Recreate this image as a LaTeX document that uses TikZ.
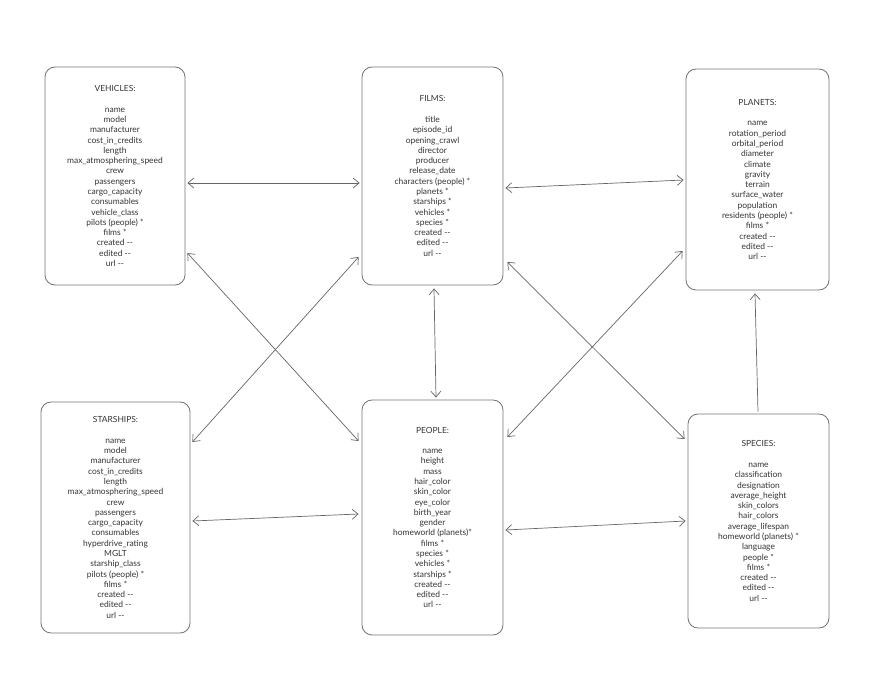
\documentclass[tikz,border=0pt]{standalone}
\usepackage{fontspec}
\setmainfont{Lato}
\usetikzlibrary{arrows.meta, positioning}

\tikzset{
	entity/.style={draw=black!55, line width=0.7pt, rounded corners=0.3cm, align=center, inner sep=0pt,
		text=black!80, font=\fontsize{7.2}{8.78}\selectfont},
	link/.style={draw=black!60, line width=0.6pt},
	tip/.tip={Straight Barb[length=5pt, width=8.5pt, line width=0.6pt]}
}

\begin{document}
\begin{tikzpicture}[x=0.03cm, y=-0.03cm]
			\useasboundingbox (0,0) rectangle (883,694);

			\node (veh)[entity, minimum width=4.2cm, minimum height=6.54cm] at (115, 176) {VEHICLES:\\[8.78pt]name\\model\\manufacturer\\cost\_in\_credits\\length\\max\_atmosphering\_speed\\crew\\passengers\\cargo\_capacity\\consumables\\vehicle\_class\\pilots (people) *\\films *\\created -{}-\\edited -{}-\\url -{}-};
			\node (flm)[entity, minimum width=4.23cm, minimum height=6.54cm] at (432.5, 176) {FILMS:\\[8.78pt]title\\episode\_id\\opening\_crawl\\director\\producer\\release\_date\\characters (people) *\\planets *\\starships *\\vehicles *\\species *\\created -{}-\\edited -{}-\\url -{}-};
			\node (pla)[entity, minimum width=4.29cm, minimum height=6.63cm] at (757.5, 179.5) {PLANETS:\\[8.78pt]name\\rotation\_period\\orbital\_period\\diameter\\climate\\gravity\\terrain\\surface\_water\\population\\residents (people) *\\films *\\created -{}-\\edited -{}-\\url -{}-};
			\node (sta)[entity, minimum width=4.47cm, minimum height=6.93cm] at (115.5, 517.5) {STARSHIPS:\\[8.78pt]name\\model\\manufacturer\\cost\_in\_credits\\length\\max\_atmosphering\_speed\\crew\\passengers\\cargo\_capacity\\consumables\\hyperdrive\_rating\\MGLT\\starship\_class\\pilots (people) *\\films *\\created -{}-\\edited -{}-\\url -{}-};
			\node (ppl)[entity, minimum width=4.23cm, minimum height=7.05cm] at (432.5, 517.5) {PEOPLE:\\[8.78pt]name\\height\\mass\\hair\_color\\skin\_color\\eye\_color\\birth\_year\\gender\\homeworld (planets)*\\films *\\species *\\vehicles *\\starships *\\created -{}-\\edited -{}-\\url -{}-};
			\node (spe)[entity, minimum width=4.23cm, minimum height=6.42cm] at (758.5, 521) {SPECIES:\\[8.78pt]name\\classification\\designation\\average\_height\\skin\_colors\\hair\_colors\\average\_lifespan\\homeworld (planets) *\\language\\people *\\films *\\created -{}-\\edited -{}-\\url -{}-};

			\draw[link, tip-tip] ([shift={(2,7)}]veh.east) -- ([shift={(-2,7)}]flm.west);
			\draw[link, tip-tip] ([shift={(2,77)}]veh.east) -- ([shift={(-3,-76.5)}]ppl.west);
			\draw[link, tip-tip] ([shift={(2,-75.5)}]sta.east) -- ([shift={(-3,81)}]flm.west);
			\draw[link, tip-tip] ([shift={(2,3.5)}]sta.east) -- ([shift={(-3,-3.5)}]ppl.west);
			\draw[link, tip-tip] ([shift={(1.5,3)}]flm.south) -- ([shift={(3.5,-2)}]ppl.north);
			\draw[link, tip-tip] ([shift={(2,12)}]flm.east) -- ([shift={(-2,0.5)}]pla.west);
			\draw[link, tip-tip] ([shift={(4,86)}]flm.east) -- ([shift={(-3,-82)}]spe.west);
			\draw[link, tip-tip] ([shift={(4,-80.5)}]ppl.east) -- ([shift={(-3,71.5)}]pla.west);
			\draw[link, tip-tip] ([shift={(2,12.5)}]ppl.east) -- ([shift={(-2,0)}]spe.west);
			\draw[link, -tip] ([shift={(-0.5,-2)}]spe.north) -- ([shift={(-2.5,3)}]pla.south);
		\end{tikzpicture}
\end{document}
